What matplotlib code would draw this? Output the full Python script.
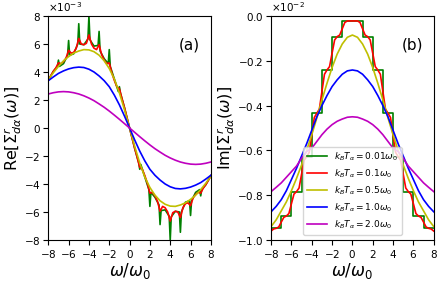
import matplotlib.pyplot as plt

plt.rcParams['axes.formatter.use_mathtext'] = True

# frequency grids (units of omega_0)
w_half = [-8, -7.5, -7, -6.5, -6, -5.5, -5, -4.5, -4, -3.5, -3, -2.5, -2, -1.5, -1, -0.5,
          0, 0.5, 1, 1.5, 2, 2.5, 3, 3.5, 4, 4.5, 5, 5.5, 6, 6.5, 7, 7.5, 8]
w_quarter = [-8, -7.75, -7.5, -7.25, -7, -6.75, -6.5, -6.25, -6, -5.75, -5.5, -5.25, -5,
             -4.75, -4.5, -4.25, -4, -3.75, -3.5, -3.25, -3, -2.75, -2.5, -2.25, -2,
             -1.75, -1.5, -1.25, -1, -0.75, -0.5, -0.25, 0, 0.25, 0.5, 0.75, 1, 1.25,
             1.5, 1.75, 2, 2.25, 2.5, 2.75, 3, 3.25, 3.5, 3.75, 4, 4.25, 4.5, 4.75, 5,
             5.25, 5.5, 5.75, 6, 6.25, 6.5, 6.75, 7, 7.25, 7.5, 7.75, 8]
w_spike = [-8, -7.5, -7.1, -7, -6.9, -6.5, -6.1, -6, -5.9, -5.5, -5.1, -5, -4.9, -4.5,
           -4.1, -4, -3.9, -3.5, -3.1, -3, -2.9, -2.5, -2.1, -2, -1.9, -1.5, -1.1, -1,
           -0.9, -0.5, 0, 0.5, 0.9, 1, 1.1, 1.5, 1.9, 2, 2.1, 2.5, 2.9, 3, 3.1, 3.5,
           3.9, 4, 4.1, 4.5, 4.9, 5, 5.1, 5.5, 5.9, 6, 6.1, 6.5, 6.9, 7, 7.1, 7.5, 8]
w_steps = [-8, -7, -6, -5, -4, -3, -2, -1, 0, 1, 2, 3, 4, 5, 6, 7, 8]

labels = [r'$k_BT_\alpha=0.01\omega_0$', r'$k_BT_\alpha=0.1\omega_0$',
          r'$k_BT_\alpha=0.5\omega_0$', r'$k_BT_\alpha=1.0\omega_0$',
          r'$k_BT_\alpha=2.0\omega_0$']

# Re part, x1e-3
re_001 = [3.4, 4.05, 4.4, 4.85, 4.4, 4.6, 5.2, 6.25, 5.2, 5.3, 6.0, 7.45, 6.0, 5.95,
          6.35, 8.0, 6.3, 5.85, 5.9, 6.9, 5.5, 4.95, 4.6, 5.6, 4.4, 3.5, 2.6, 2.95,
          2.5, 1.45, 0.0, -1.45, -2.5, -2.95, -2.6, -3.5, -4.4, -5.6, -4.6, -4.95,
          -5.5, -6.9, -5.9, -5.85, -6.3, -8.0, -6.35, -5.95, -6.0, -7.45, -6.0, -5.3,
          -5.2, -6.25, -5.2, -4.6, -4.4, -4.85, -4.4, -4.05, -3.4]
re_01 = [3.4, 3.75, 4.05, 4.3, 4.65, 4.6, 4.75, 5.0, 5.55, 5.35, 5.4, 5.7, 6.4, 6.0,
         5.95, 6.05, 6.65, 6.0, 5.7, 5.6, 5.95, 5.25, 4.85, 4.6, 4.65, 3.95, 3.4,
         2.95, 2.8, 2.1, 1.45, 0.73, 0.0, -0.73, -1.45, -2.1, -2.8, -2.95, -3.4,
         -3.95, -4.65, -4.6, -4.85, -5.25, -5.95, -5.6, -5.7, -6.0, -6.65, -6.05,
         -5.95, -6.0, -6.4, -5.7, -5.4, -5.35, -5.55, -5.0, -4.75, -4.6, -4.65, -4.3,
         -4.05, -3.75, -3.4]
re_05 = [3.45, 3.95, 4.4, 4.8, 5.1, 5.35, 5.5, 5.6, 5.58, 5.45, 5.2, 4.8, 4.25, 3.5,
         2.5, 1.3, 0.0, -1.3, -2.5, -3.5, -4.25, -4.8, -5.2, -5.45, -5.58, -5.6, -5.5,
         -5.35, -5.1, -4.8, -4.4, -3.95, -3.45]
re_10 = [3.38, 3.65, 3.9, 4.08, 4.22, 4.31, 4.35, 4.32, 4.2, 4.0, 3.72, 3.38, 2.95,
         2.35, 1.65, 0.85, 0.0, -0.85, -1.65, -2.35, -2.95, -3.38, -3.72, -4.0, -4.2,
         -4.32, -4.35, -4.31, -4.22, -4.08, -3.9, -3.65, -3.38]
re_20 = [2.43, 2.52, 2.58, 2.6, 2.58, 2.52, 2.43, 2.3, 2.14, 1.95, 1.72, 1.48, 1.21,
         0.92, 0.62, 0.31, 0.0, -0.31, -0.62, -0.92, -1.21, -1.48, -1.72, -1.95,
         -2.14, -2.3, -2.43, -2.52, -2.58, -2.6, -2.58, -2.52, -2.43]

# Im part, x1e-2
im_001 = [-0.948, -0.893, -0.784, -0.628, -0.434, -0.241, -0.092, -0.022, -0.022,
          -0.092, -0.241, -0.434, -0.628, -0.784, -0.893, -0.948, -0.948]
im_01 = [-0.96, -0.951, -0.948, -0.942, -0.92, -0.899, -0.893, -0.882, -0.838, -0.795,
         -0.784, -0.768, -0.706, -0.644, -0.628, -0.609, -0.531, -0.453, -0.434,
         -0.415, -0.337, -0.26, -0.241, -0.226, -0.166, -0.107, -0.092, -0.085,
         -0.057, -0.029, -0.022, -0.022, -0.022, -0.022, -0.022, -0.029, -0.057,
         -0.085, -0.092, -0.107, -0.166, -0.226, -0.241, -0.26, -0.337, -0.415,
         -0.434, -0.453, -0.531, -0.609, -0.628, -0.644, -0.706, -0.768, -0.784,
         -0.795, -0.838, -0.882, -0.893, -0.899, -0.92, -0.942, -0.948, -0.951, -0.96]
im_05 = [-0.94, -0.91, -0.87, -0.83, -0.78, -0.725, -0.665, -0.6, -0.53, -0.455,
         -0.375, -0.3, -0.23, -0.17, -0.125, -0.095, -0.085, -0.095, -0.125, -0.17,
         -0.23, -0.3, -0.375, -0.455, -0.53, -0.6, -0.665, -0.725, -0.78, -0.83,
         -0.87, -0.91, -0.94]
im_10 = [-0.874, -0.85, -0.82, -0.78, -0.73, -0.68, -0.625, -0.57, -0.51, -0.45,
         -0.4, -0.355, -0.315, -0.285, -0.26, -0.245, -0.241, -0.245, -0.26, -0.285,
         -0.315, -0.355, -0.4, -0.45, -0.51, -0.57, -0.625, -0.68, -0.73, -0.78,
         -0.82, -0.85, -0.874]
im_20 = [-0.784, -0.765, -0.745, -0.72, -0.695, -0.67, -0.635, -0.605, -0.59, -0.56,
         -0.53, -0.505, -0.485, -0.47, -0.46, -0.452, -0.45, -0.452, -0.46, -0.47,
         -0.485, -0.505, -0.53, -0.56, -0.59, -0.605, -0.635, -0.67, -0.695, -0.72,
         -0.745, -0.765, -0.784]

colors = ['g', 'r', 'y', 'b', 'm']

fig = plt.figure(figsize=(4.43, 2.81), dpi=100)
ax1 = fig.add_axes([0.109, 0.146, 0.367, 0.797])
ax2 = fig.add_axes([0.612, 0.146, 0.367, 0.797])

ax1.plot(w_spike, [v * 1e-3 for v in re_001], color=colors[0], lw=1.2)
ax1.plot(w_quarter, [v * 1e-3 for v in re_01], color=colors[1], lw=1.2)
ax1.plot(w_half, [v * 1e-3 for v in re_05], color=colors[2], lw=1.2)
ax1.plot(w_half, [v * 1e-3 for v in re_10], color=colors[3], lw=1.2)
ax1.plot(w_half, [v * 1e-3 for v in re_20], color=colors[4], lw=1.2)

ax2.step(w_steps, [v * 1e-2 for v in im_001], where='post', color=colors[0], lw=1.2, label=labels[0])
ax2.plot(w_quarter, [v * 1e-2 for v in im_01], color=colors[1], lw=1.2, label=labels[1])
ax2.plot(w_half, [v * 1e-2 for v in im_05], color=colors[2], lw=1.2, label=labels[2])
ax2.plot(w_half, [v * 1e-2 for v in im_10], color=colors[3], lw=1.2, label=labels[3])
ax2.plot(w_half, [v * 1e-2 for v in im_20], color=colors[4], lw=1.2, label=labels[4])

ax1.set_xlim(-8, 8)
ax1.set_ylim(-8e-3, 8e-3)
ax2.set_xlim(-8, 8)
ax2.set_ylim(-1e-2, 0)
ax1.set_yticks([-8e-3, -6e-3, -4e-3, -2e-3, 0, 2e-3, 4e-3, 6e-3, 8e-3])
ax2.set_yticks([-1e-2, -0.8e-2, -0.6e-2, -0.4e-2, -0.2e-2, 0])
for ax in (ax1, ax2):
    ax.set_xticks(range(-8, 9, 2))
    ax.ticklabel_format(axis='y', style='sci', scilimits=(0, 0))
    ax.tick_params(labelsize=7.5, pad=2)
    ax.yaxis.get_offset_text().set_fontsize(7.5)
    ax.set_xlabel(r'$\omega/\omega_0$', fontsize=12, labelpad=1)
ax1.set_ylabel(r'Re$[\Sigma^r_{d\alpha}(\omega)]$', fontsize=11.5, labelpad=0)
ax2.set_ylabel(r'Im$[\Sigma^r_{d\alpha}(\omega)]$', fontsize=11.5, labelpad=0)
ax1.text(0.866, 0.87, '(a)', transform=ax1.transAxes, fontsize=11, ha='center', va='center')
ax2.text(0.87, 0.87, '(b)', transform=ax2.transAxes, fontsize=11, ha='center', va='center')
ax2.legend(loc='lower center', fontsize=6.5, handlelength=2.2, borderaxespad=0.6)

fig.savefig('out.png', dpi=100)
